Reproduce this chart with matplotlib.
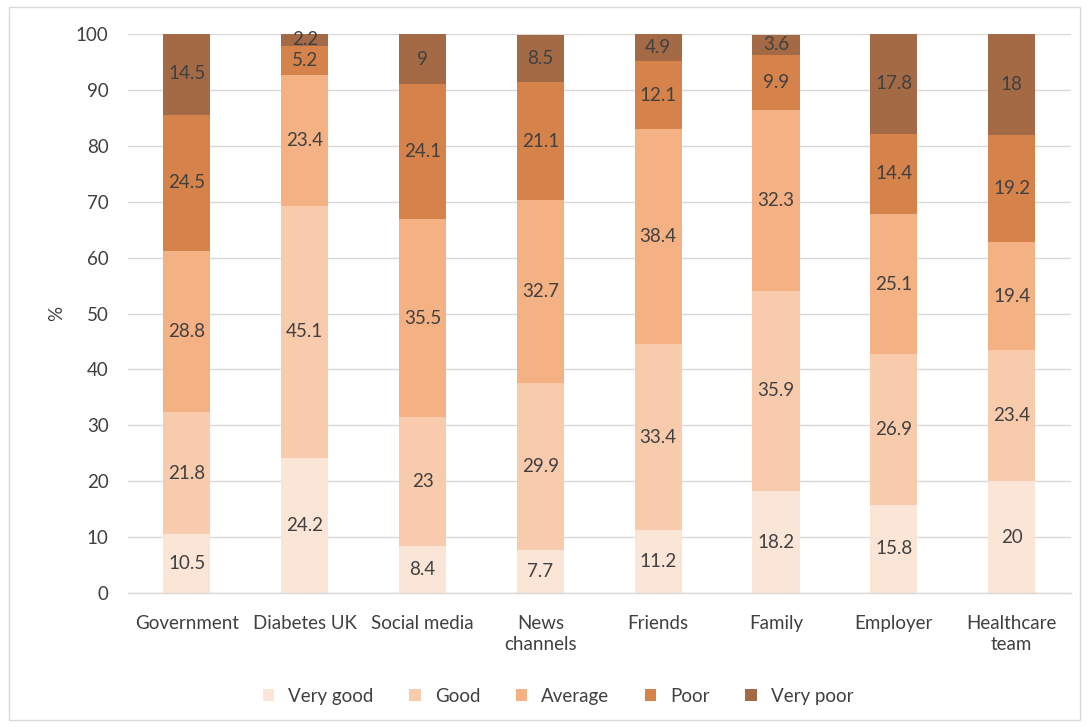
import matplotlib
matplotlib.use("Agg")
import matplotlib.pyplot as plt
import numpy as np

plt.rcParams['font.family'] = ['Lato', 'DejaVu Sans']

categories = ["Government", "Diabetes UK", "Social media", "News\nchannels",
              "Friends", "Family", "Employer", "Healthcare\nteam"]
series_names = ["Very good", "Good", "Average", "Poor", "Very poor"]
very_good = [10.5, 24.2, 8.4, 7.7, 11.2, 18.2, 15.8, 20]
good = [21.8, 45.1, 23, 29.9, 33.4, 35.9, 26.9, 23.4]
average = [28.8, 23.4, 35.5, 32.7, 38.4, 32.3, 25.1, 19.4]
poor = [24.5, 5.2, 24.1, 21.1, 12.1, 9.9, 14.4, 19.2]
very_poor = [14.5, 2.2, 9, 8.5, 4.9, 3.6, 17.8, 18]
yticks = [0, 10, 20, 30, 40, 50, 60, 70, 80, 90, 100]

colors = ["#FBE5D6", "#F8CBAD", "#F4B183", "#D6834B", "#A46A45"]
text_color = "#404040"
fs = 13.5

fig = plt.figure(figsize=(10.88, 7.27), dpi=100)
ax = fig.add_axes([0.1176, 0.1843, 0.8664, 0.7689])

x = np.arange(len(categories))
bottom = np.zeros(len(categories))
data = [very_good, good, average, poor, very_poor]
for name, vals, c in zip(series_names, data, colors):
    vals = np.array(vals, dtype=float)
    ax.bar(x, vals, 0.4, bottom=bottom, color=c, label=name, zorder=2)
    for xi, b, v in zip(x, bottom, vals):
        ax.text(xi, b + v / 2, f"{v:g}", ha="center", va="center",
                fontsize=fs, color=text_color, zorder=3)
    bottom += vals

ax.set_xlim(-0.5, len(categories) - 0.5)
ax.set_ylim(0, 100)
ax.set_yticks(yticks)
ax.set_xticks(x)
ax.set_xticklabels(categories, fontsize=fs, color=text_color, linespacing=1.25)
ax.tick_params(axis="y", labelsize=fs, colors=text_color, length=0, pad=14)
ax.tick_params(axis="x", length=0, pad=16, colors=text_color)
ax.grid(axis="y", color="#D9D9D9", linewidth=1, zorder=0)
for s in ["top", "right", "left"]:
    ax.spines[s].set_visible(False)
ax.spines["bottom"].set_color("#D9D9D9")
ax.spines["bottom"].set_linewidth(1)
ax.set_axisbelow(True)
ax.set_ylabel("%", fontsize=fs, color=text_color, labelpad=8)

fig.legend(loc="center", bbox_to_anchor=(0.513, 0.042), ncol=5, frameon=False,
           fontsize=fs, labelcolor=text_color, handlelength=0.6, handleheight=0.6,
           columnspacing=1.9, handletextpad=0.75)

border = plt.Rectangle((0.008, 0.01), 0.985, 0.98, transform=fig.transFigure,
                       fill=False, edgecolor="#D9D9D9", linewidth=1)
fig.add_artist(border)

fig.savefig("out.png", dpi=100)
